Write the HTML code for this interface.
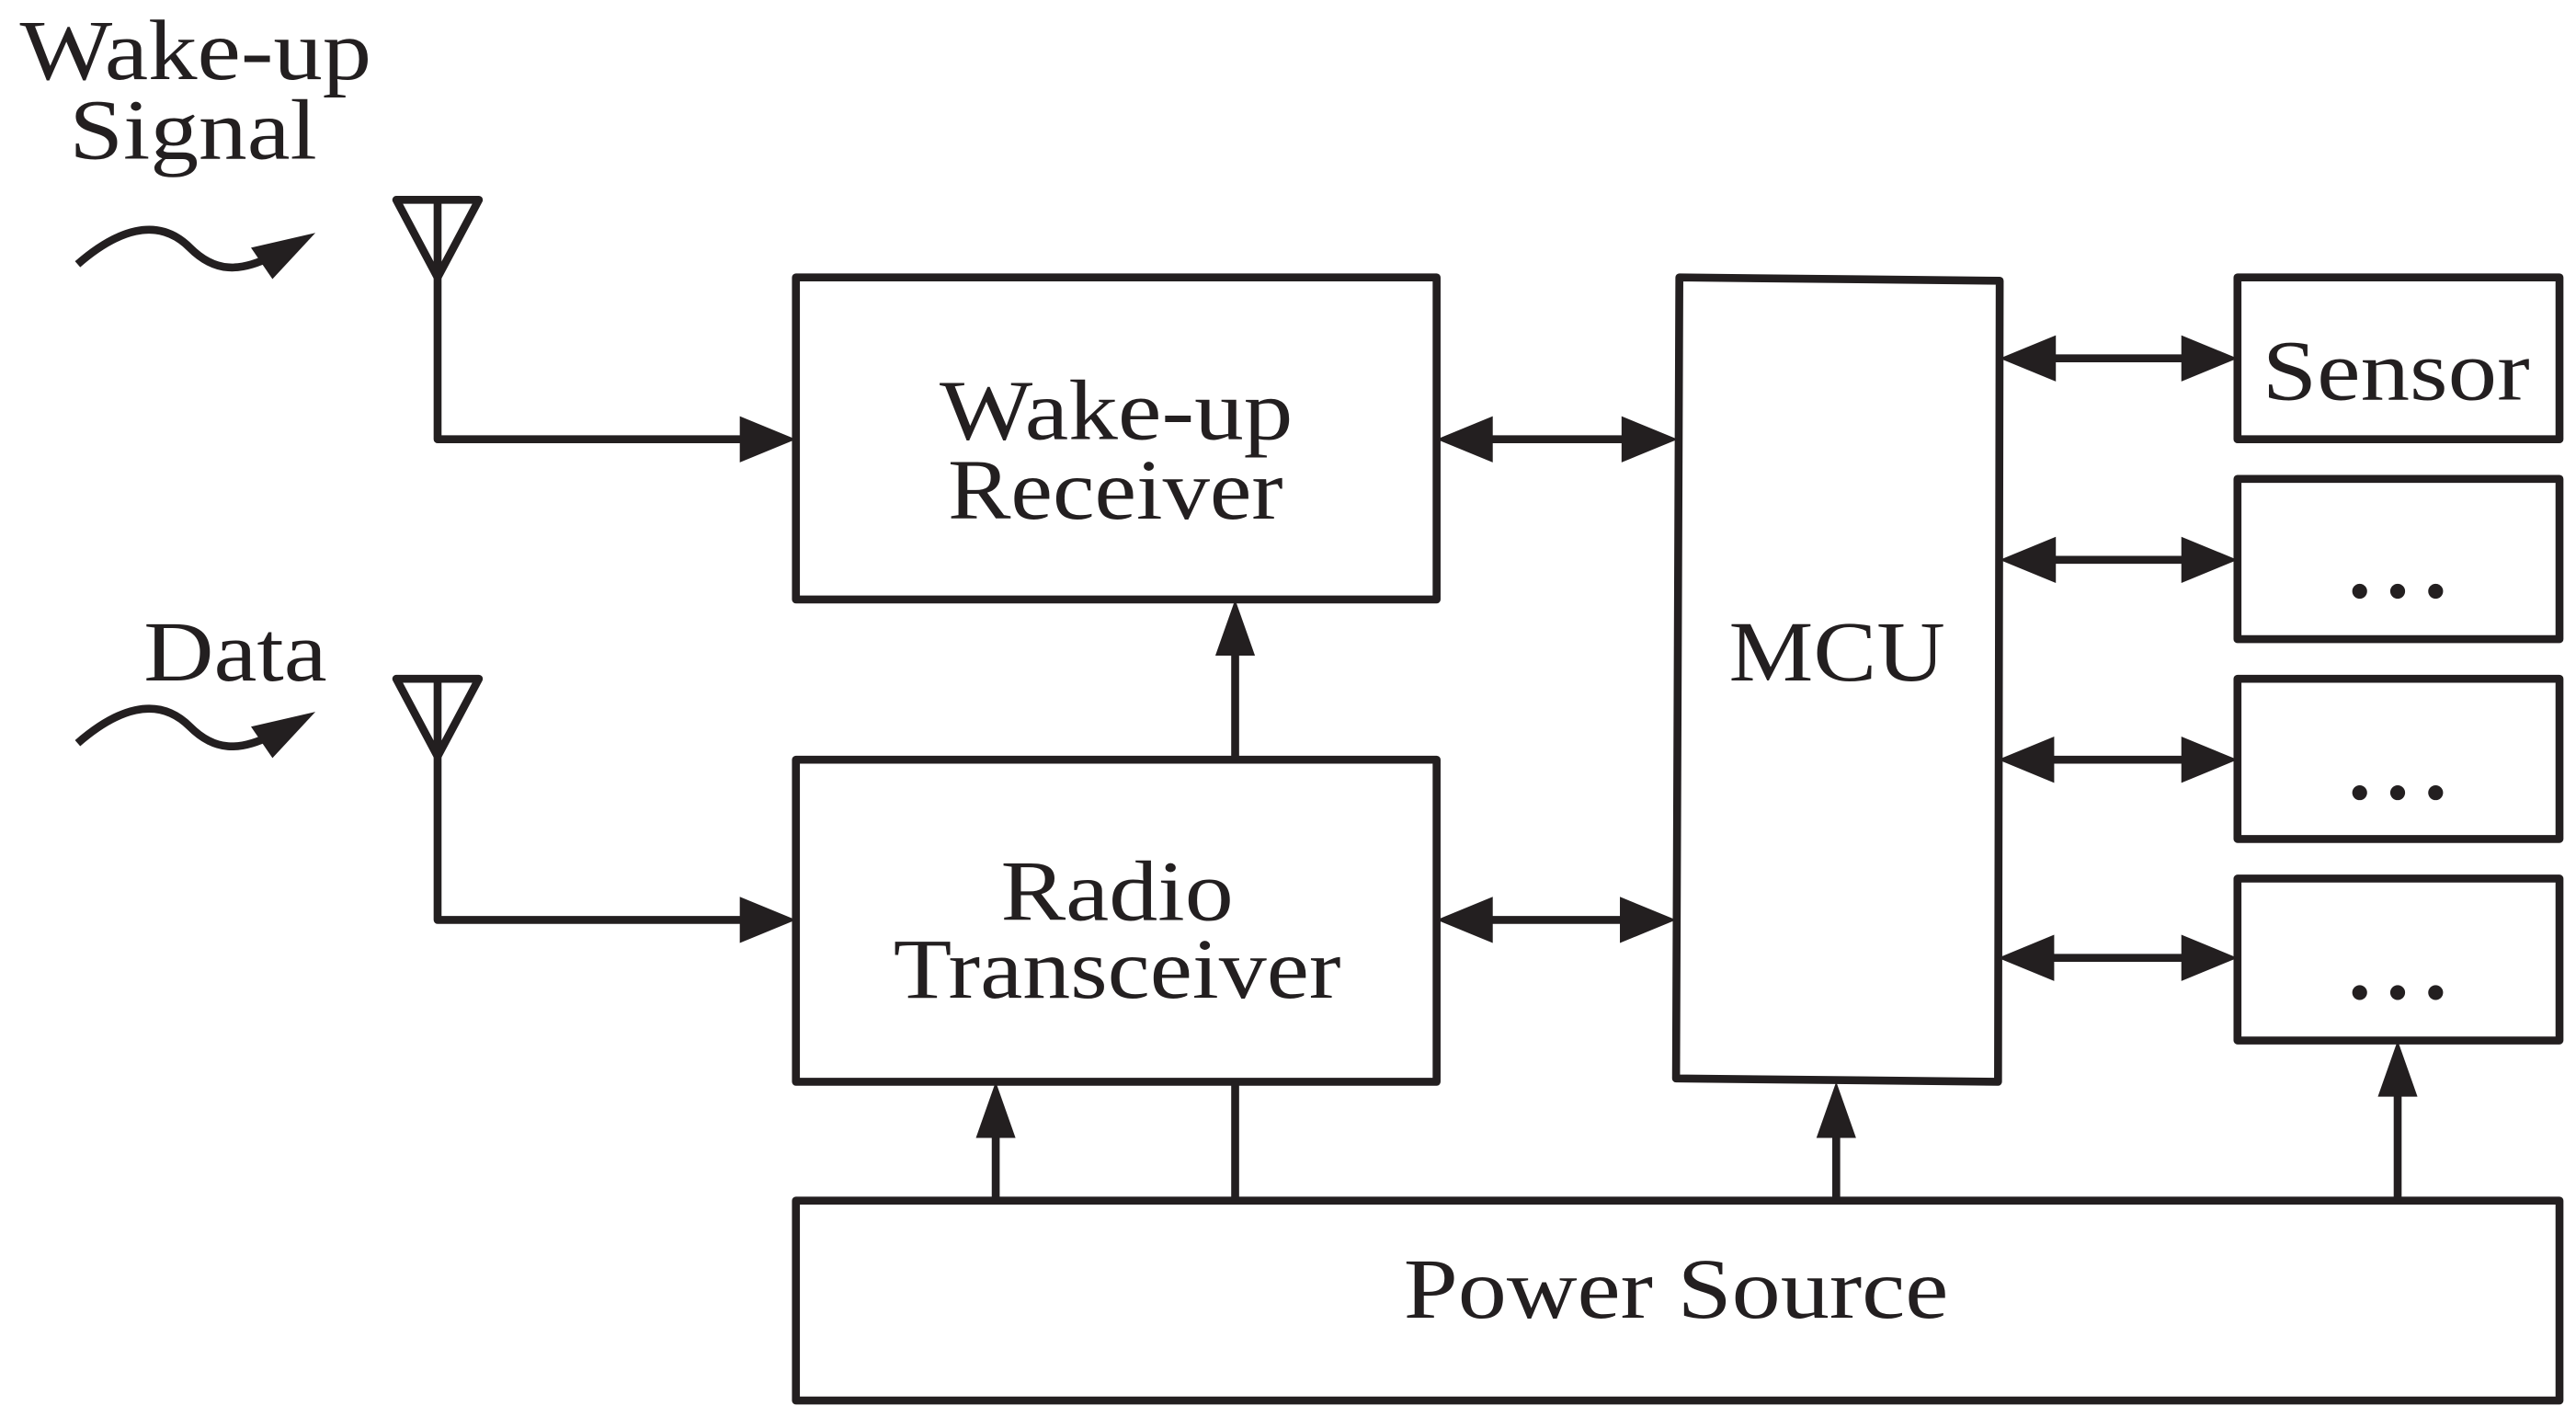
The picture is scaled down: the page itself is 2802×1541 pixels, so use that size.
<!DOCTYPE html>
<html><head><meta charset="utf-8"><style>
html,body{margin:0;padding:0;background:#fff;}
svg{display:block;}
text{font-family:"Liberation Serif",serif;fill:#231f20;}
</style></head><body>
<svg width="2802" height="1541" viewBox="0 0 1560 858" preserveAspectRatio="none" xmlns="http://www.w3.org/2000/svg">
<g stroke="#231f20" stroke-width="4.8" fill="none" stroke-linejoin="round">
<rect x="482" y="168" width="388" height="195"/>
<rect x="482" y="460" width="388" height="195"/>
<path d="M1017,168 L1211,170 L1210,655 L1015,653 Z"/>
<rect x="1355" y="168" width="195" height="98"/>
<rect x="1355" y="290" width="195" height="97"/>
<rect x="1355" y="411" width="195" height="97"/>
<rect x="1355" y="532" width="195" height="98"/>
<rect x="482" y="727" width="1068" height="121"/>
<path d="M240,121 L290,121 L265,168 Z M265,121 L265,168"/>
<path d="M240,411 L290,411 L265,458 Z M265,411 L265,458"/>
<path d="M265,168 L265,266 L450,266"/>
<path d="M265,458 L265,557 L450,557"/>
<path d="M47,160 C70,140 95,130 115,150 C130,165 145,165 165,155"/>
<path d="M47,450 C70,430 95,420 115,440 C130,455 145,455 165,445"/>
<path d="M900,266 L986,266"/>
<path d="M900,557 L986,557"/>
<path d="M1240,217 L1325,217"/>
<path d="M1240,339 L1325,339"/>
<path d="M1240,460 L1325,460"/>
<path d="M1240,580 L1325,580"/>
<path d="M748,460 L748,393"/>
<path d="M603,727 L603,685"/>
<path d="M748,727 L748,655"/>
<path d="M1112,727 L1112,685"/>
<path d="M1452,727 L1452,660"/>
</g>
<g fill="#231f20">
<path d="M482,266 L448,252 L448,280 Z"/>
<path d="M482,557 L448,543 L448,571 Z"/>
<path d="M870,266 L904,252 L904,280 Z"/><path d="M1016,266 L982,252 L982,280 Z"/>
<path d="M870,557 L904,543 L904,571 Z"/><path d="M1015,557 L981,543 L981,571 Z"/>
<path d="M1211,217 L1245,203 L1245,231 Z"/><path d="M1355,217 L1321,203 L1321,231 Z"/>
<path d="M1211,339 L1245,325 L1245,353 Z"/><path d="M1355,339 L1321,325 L1321,353 Z"/>
<path d="M1210,460 L1244,446 L1244,474 Z"/><path d="M1355,460 L1321,446 L1321,474 Z"/>
<path d="M1210,580 L1244,566 L1244,594 Z"/><path d="M1355,580 L1321,566 L1321,594 Z"/>
<path d="M748,363 L736,397 L760,397 Z"/>
<path d="M603,655 L591,689 L615,689 Z"/>
<path d="M1112,655 L1100,689 L1124,689 Z"/>
<path d="M1452,630 L1440,664 L1464,664 Z"/>
<path d="M191,141 L152,150 L165,169 Z"/>
<path d="M191,431 L152,440 L165,459 Z"/>
</g>
<text x="12" y="48" font-size="52" textLength="213" lengthAdjust="spacingAndGlyphs">Wake-up</text>
<text x="42" y="96" font-size="52" textLength="150" lengthAdjust="spacingAndGlyphs">Signal</text>
<text x="87" y="412" font-size="52" textLength="111" lengthAdjust="spacingAndGlyphs">Data</text>
<text x="569" y="266" font-size="52" textLength="214" lengthAdjust="spacingAndGlyphs">Wake-up</text>
<text x="574" y="314" font-size="52" textLength="203" lengthAdjust="spacingAndGlyphs">Receiver</text>
<text x="606" y="557" font-size="52" textLength="141" lengthAdjust="spacingAndGlyphs">Radio</text>
<text x="541" y="604" font-size="52" textLength="271" lengthAdjust="spacingAndGlyphs">Transceiver</text>
<text x="1047" y="412" font-size="52" textLength="131" lengthAdjust="spacingAndGlyphs">MCU</text>
<text x="1370" y="242" font-size="52" textLength="162" lengthAdjust="spacingAndGlyphs">Sensor</text>
<text x="850" y="798" font-size="52" textLength="330" lengthAdjust="spacingAndGlyphs">Power Source</text>
<g fill="#231f20">
<circle cx="1429" cy="358" r="4.5"/><circle cx="1452" cy="358" r="4.5"/><circle cx="1475" cy="358" r="4.5"/>
<circle cx="1429" cy="480" r="4.5"/><circle cx="1452" cy="480" r="4.5"/><circle cx="1475" cy="480" r="4.5"/>
<circle cx="1429" cy="601" r="4.5"/><circle cx="1452" cy="601" r="4.5"/><circle cx="1475" cy="601" r="4.5"/>
</g>
</svg>
</body></html>
